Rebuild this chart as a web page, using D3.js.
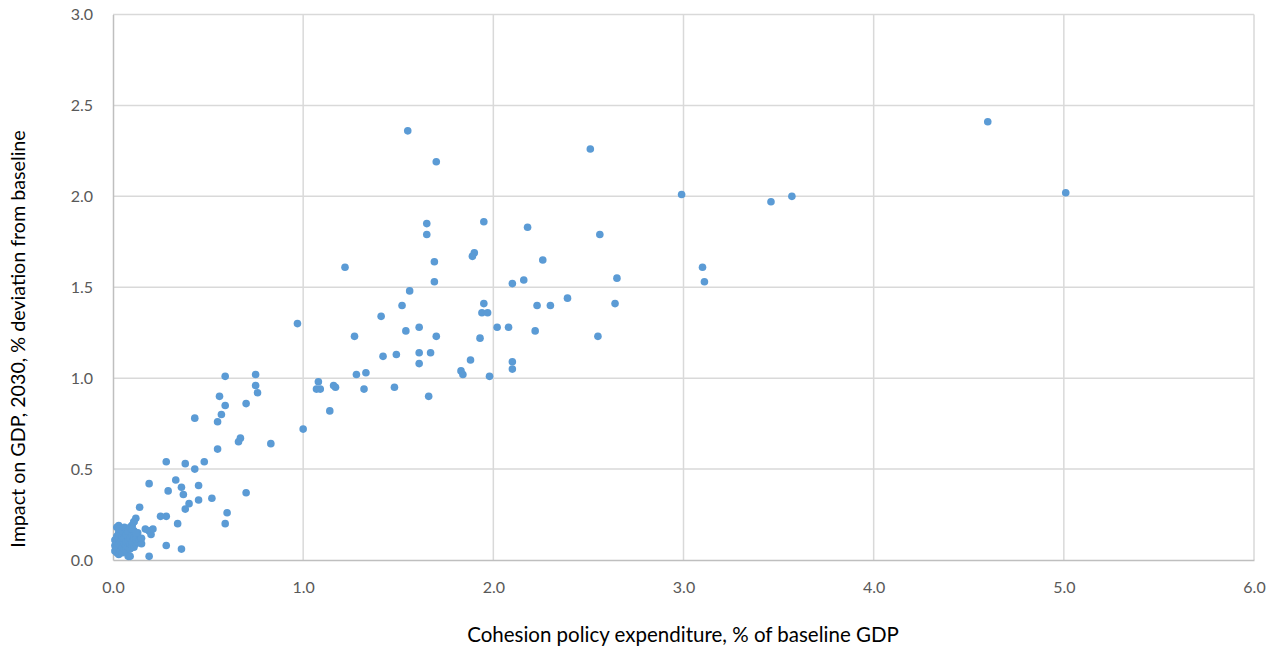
<!DOCTYPE html>
<html>
<head>
<meta charset="utf-8">
<script src="https://cdn.jsdelivr.net/npm/d3@7"></script>
<style>
  html, body { margin: 0; padding: 0; background: #fff; }
  svg { display: block; font-family: Lato, "Open Sans", sans-serif; }
</style>
</head>
<body>
<svg id="chart" width="1279" height="650"></svg>
<script>
// Cohesion policy expenditure (% of baseline GDP) per region
const expenditure = [
  4.60, 5.01, 2.99, 3.46, 3.57, 3.10, 3.11, 2.51, 1.55, 1.70,
  2.56, 2.65, 2.64, 2.55, 2.39, 2.30, 2.23, 2.22, 2.26, 2.18,
  2.16, 2.10, 1.95, 1.90, 1.89, 1.95, 1.94, 1.97, 1.93, 2.02,
  2.08, 2.10, 2.10, 1.98, 1.88, 1.83, 1.84, 1.65, 1.65, 1.69,
  1.69, 1.56, 1.52, 1.54, 1.61, 1.70, 1.61, 1.67, 1.61, 1.66,
  1.48, 1.49, 1.42, 1.41, 1.22, 1.27, 1.33, 1.28, 1.32, 1.17,
  1.16, 1.14, 1.08, 1.09, 1.07, 0.97, 1.00, 0.83, 0.75, 0.75,
  0.76, 0.70, 0.59, 0.59, 0.57, 0.56, 0.55, 0.67, 0.66, 0.43,
  0.70, 0.55, 0.48, 0.43, 0.28, 0.38, 0.33, 0.36, 0.37, 0.29,
  0.45, 0.40, 0.38, 0.45, 0.52, 0.60, 0.59, 0.34, 0.36, 0.28,
  0.28, 0.25, 0.19, 0.19, 0.20, 0.17, 0.21, 0.19, 0.14, 0.12,
  0.11, 0.10, 0.03,
  0.01, 0.01, 0.01, 0.02, 0.02, 0.02, 0.02, 0.02, 0.03, 0.03,
  0.03, 0.03, 0.03, 0.03, 0.04, 0.04, 0.04, 0.04, 0.05, 0.05,
  0.05, 0.05, 0.05, 0.06, 0.06, 0.06, 0.06, 0.07, 0.07, 0.07,
  0.07, 0.07, 0.08, 0.08, 0.08, 0.08, 0.08, 0.09, 0.09, 0.09,
  0.09, 0.09, 0.10, 0.10, 0.10, 0.10, 0.11, 0.11, 0.11, 0.11,
  0.12, 0.12, 0.12, 0.13, 0.13, 0.14, 0.15, 0.15, 0.10, 0.12
];

// Impact on GDP in 2030 (% deviation from baseline), same order
const impact = [
  2.41, 2.02, 2.01, 1.97, 2.00, 1.61, 1.53, 2.26, 2.36, 2.19,
  1.79, 1.55, 1.41, 1.23, 1.44, 1.40, 1.40, 1.26, 1.65, 1.83,
  1.54, 1.52, 1.86, 1.69, 1.67, 1.41, 1.36, 1.36, 1.22, 1.28,
  1.28, 1.09, 1.05, 1.01, 1.10, 1.04, 1.02, 1.85, 1.79, 1.64,
  1.53, 1.48, 1.40, 1.26, 1.28, 1.23, 1.14, 1.14, 1.08, 0.90,
  0.95, 1.13, 1.12, 1.34, 1.61, 1.23, 1.03, 1.02, 0.94, 0.95,
  0.96, 0.82, 0.98, 0.94, 0.94, 1.30, 0.72, 0.64, 1.02, 0.96,
  0.92, 0.86, 1.01, 0.85, 0.80, 0.90, 0.76, 0.67, 0.65, 0.78,
  0.37, 0.61, 0.54, 0.50, 0.54, 0.53, 0.44, 0.40, 0.36, 0.38,
  0.41, 0.31, 0.28, 0.33, 0.34, 0.26, 0.20, 0.20, 0.06, 0.08,
  0.24, 0.24, 0.42, 0.16, 0.14, 0.17, 0.17, 0.02, 0.29, 0.23,
  0.21, 0.19, 0.19,
  0.05, 0.08, 0.11, 0.04, 0.07, 0.10, 0.13, 0.18, 0.03, 0.06,
  0.09, 0.12, 0.15, 0.17, 0.05, 0.08, 0.10, 0.14, 0.04, 0.07,
  0.11, 0.13, 0.16, 0.06, 0.09, 0.12, 0.18, 0.05, 0.08, 0.10,
  0.14, 0.17, 0.02, 0.07, 0.11, 0.13, 0.16, 0.02, 0.06, 0.09,
  0.12, 0.18, 0.08, 0.10, 0.14, 0.19, 0.07, 0.12, 0.16, 0.21,
  0.09, 0.11, 0.13, 0.10, 0.15, 0.11, 0.09, 0.12, 0.17, 0.15
];

const xTicks = [0, 1, 2, 3, 4, 5, 6];
const yTicks = [0, 0.5, 1, 1.5, 2, 2.5, 3];
const xTitle = "Cohesion policy expenditure, % of baseline GDP";
const yTitle = "Impact on GDP, 2030, % deviation from baseline";

const points = expenditure.map((x, i) => ({ x, y: impact[i] }));

const svg = d3.select("#chart");
const plot = { left: 113, right: 1254, top: 14.5, bottom: 560 };

const x = d3.scaleLinear().domain([0, 6]).range([plot.left, plot.right]);
const y = d3.scaleLinear().domain([0, 3]).range([plot.bottom, plot.top]);

// Gridlines
svg.append("g")
  .selectAll("line.h")
  .data(yTicks.filter(d => d > 0))
  .join("line")
  .attr("x1", plot.left).attr("x2", plot.right)
  .attr("y1", d => y(d)).attr("y2", d => y(d))
  .attr("stroke", "#d9d9d9").attr("stroke-width", 1.5);

svg.append("g")
  .selectAll("line.v")
  .data(xTicks.filter(d => d > 0))
  .join("line")
  .attr("y1", plot.top).attr("y2", plot.bottom)
  .attr("x1", d => x(d)).attr("x2", d => x(d))
  .attr("stroke", "#d9d9d9").attr("stroke-width", 1.5);

// Axes
const xAxis = d3.axisBottom(x).tickValues(xTicks).tickFormat(d3.format(".1f")).tickSize(0).tickPadding(22);
const yAxis = d3.axisLeft(y).tickValues(yTicks).tickFormat(d3.format(".1f")).tickSize(0).tickPadding(20);

const gx = svg.append("g").attr("transform", `translate(0,${plot.bottom})`).call(xAxis);
const gy = svg.append("g").attr("transform", `translate(${plot.left},0)`).call(yAxis);

[gx, gy].forEach(g => {
  g.select(".domain").attr("stroke", "#bfbfbf").attr("stroke-width", 1.5);
  g.selectAll("text")
    .attr("fill", "#595959")
    .style("font-size", "16px")
    .style("font-family", "Lato, 'Open Sans', sans-serif");
});

// Points
svg.append("g")
  .selectAll("circle")
  .data(points)
  .join("circle")
  .attr("cx", d => x(d.x))
  .attr("cy", d => y(d.y))
  .attr("r", 3.8)
  .attr("fill", "#5b9bd5");

// Axis titles
svg.append("text")
  .attr("x", 683)
  .attr("y", 642)
  .attr("text-anchor", "middle")
  .attr("fill", "#000")
  .style("font-size", "20.5px")
  .text(xTitle);

svg.append("text")
  .attr("transform", "translate(25,339) rotate(-90)")
  .attr("text-anchor", "middle")
  .attr("fill", "#000")
  .style("font-size", "19.7px")
  .text(yTitle);
</script>
</body>
</html>
